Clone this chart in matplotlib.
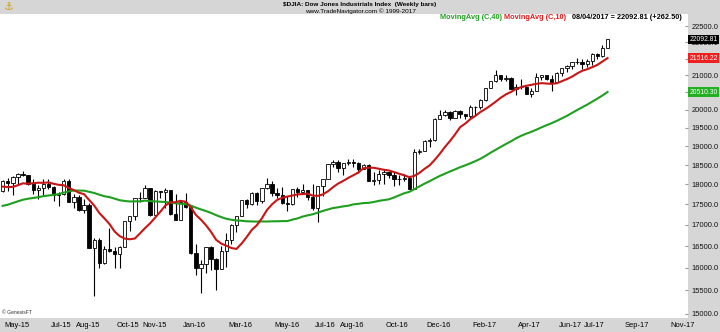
import numpy as np
import pandas as pd
import matplotlib
matplotlib.use('Agg')
import matplotlib.pyplot as plt
import matplotlib.dates as mdates
from matplotlib.ticker import FixedLocator, FormatStrFormatter, NullLocator
from matplotlib.transforms import ScaledTranslation, blended_transform_factory

plt.rcParams['font.family'] = ['Liberation Sans', 'DejaVu Sans']

# weekly bars (week ending Friday)
dates = pd.date_range('2015-04-24', periods=120, freq='W-FRI')

opens = [17827, 18080, 18024, 18191, 18272, 18232, 18011, 17849, 17899, 18016,
         17947, 17730, 17760, 18086, 17568, 17690, 17373, 17477, 16459, 16643,
         16102, 16433, 16385, 16315, 16472, 17084, 17216, 17647, 17664, 17910,
         17245, 17824, 17798, 17848, 17265, 17128, 17552, 17425, 16346, 15988,
         16093, 16466, 16205, 15974, 16392, 16640, 17006, 17213, 17602, 17515,
         17792, 17577, 17897, 18003, 17773, 17740, 17535, 17500, 17873, 17807,
         17865, 17675, 17400, 17949, 18147, 18516, 18571, 18432, 18543, 18576,
         18552, 18395, 18492, 18085, 18124, 18262, 18308, 18240, 18138, 18145,
         18161, 17888, 18848, 18868, 19152, 19170, 19757, 19843, 19934, 19763,
         19964, 19886, 19827, 20094, 20071, 20269, 20624, 20822, 21006, 20903,
         20915, 20597, 20663, 20656, 20453, 20548, 20941, 21007, 20897, 20805,
         21080, 21206, 21272, 21384, 21395, 21350, 21414, 21638, 21580, 21830]

highs = [18105, 18175, 18207, 18289, 18351, 18240, 18130, 17995, 18130, 18140,
         17950, 17820, 18140, 18130, 17760, 17740, 17640, 17540, 16700, 16700,
         16500, 16933, 16480, 16490, 17100, 17220, 17650, 17800, 17980, 17915,
         17850, 17840, 17900, 17860, 17750, 17600, 17780, 17430, 16550, 16180,
         16480, 16510, 16220, 16490, 16800, 17030, 17220, 17620, 17630, 17800,
         17810, 17920, 18168, 18080, 17900, 17940, 17700, 17890, 17930, 18000,
         17870, 18020, 17950, 18150, 18540, 18620, 18620, 18560, 18670, 18650,
         18580, 18540, 18540, 18330, 18360, 18360, 18330, 18330, 18250, 18260,
         18190, 18934, 18935, 19160, 19230, 19760, 19990, 19990, 19980, 19999,
         19990, 19890, 20125, 20110, 20300, 20640, 20830, 21169, 21010, 21000,
         20960, 20730, 20890, 20680, 20630, 21070, 21020, 21010, 21010, 21090,
         21210, 21305, 21392, 21530, 21480, 21480, 21680, 21680, 21930, 22100]

lows = [17810, 17840, 17736, 17995, 18213, 17990, 17770, 17640, 17730, 17880,
        17580, 17465, 17740, 17560, 17400, 17340, 17280, 16450, 15370, 16000,
        16090, 16350, 16000, 15990, 16470, 16860, 17130, 17560, 17650, 17220,
        17240, 17660, 17420, 17230, 17120, 17125, 17420, 16310, 15840, 15450,
        15880, 15960, 15503, 15970, 16010, 16550, 16820, 17210, 17400, 17480,
        17480, 17530, 17880, 17700, 17650, 17520, 17330, 17490, 17690, 17800,
        17600, 17350, 17063, 17710, 18140, 18440, 18330, 18240, 18500, 18450,
        18290, 18390, 18080, 17990, 18020, 18010, 18160, 17960, 17990, 18090,
        17880, 17880, 18780, 18860, 18980, 19150, 19730, 19830, 19720, 19760,
        19780, 19730, 19780, 19830, 20010, 20260, 20620, 20810, 20840, 20830,
        20590, 20410, 20590, 20450, 20380, 20540, 20860, 20860, 20550, 20800,
        20990, 21110, 21180, 21340, 21200, 21250, 21320, 21500, 21560, 21830]

closes = [18080, 18024, 18191, 18272, 18232, 18011, 17849, 17899, 18016, 17947,
          17730, 17760, 18086, 17568, 17690, 17373, 17477, 16459, 16643, 16102,
          16433, 16385, 16315, 16472, 17084, 17216, 17647, 17664, 17910, 17245,
          17824, 17798, 17848, 17265, 17128, 17552, 17425, 16346, 15988, 16093,
          16466, 16205, 15974, 16392, 16640, 17006, 17213, 17602, 17515, 17792,
          17577, 17897, 18003, 17773, 17740, 17535, 17500, 17873, 17807, 17865,
          17675, 17400, 17949, 18147, 18516, 18571, 18432, 18543, 18576, 18552,
          18395, 18492, 18085, 18124, 18262, 18308, 18240, 18138, 18145, 18161,
          17888.28, 18847.66, 18867.93, 19152.14, 19170.42, 19756.85, 19843.41, 19933.81, 19762.60, 19963.80,
          19885.73, 19827.25, 20093.78, 20071.46, 20269.37, 20624.05, 20821.76, 21005.71, 20902.98, 20914.62,
          20596.72, 20663.22, 20656.10, 20453.25, 20547.76, 20940.51, 21006.94, 20896.61, 20804.84, 21080.28,
          21206.29, 21271.97, 21384.28, 21394.76, 21349.63, 21414.34, 21637.74, 21580.07, 21830.31, 22092.81]

# closes of the 39 weeks before the first bar (needed for the 40 week average)
prior_closes = [16961, 16493, 16554, 16663, 17001, 17098, 17138, 16988, 17280, 17113,
                17009, 16544, 16380, 16805, 17391, 17573, 17635, 17810, 17828, 17959,
                17281, 17805, 18054, 17833, 17737, 17512, 17673, 17165, 17825, 18019,
                18141, 18133, 17856, 17749, 18128, 17713, 17763, 18058, 17827]

tick_dates = ['2015-05-01', '2015-07-03', '2015-08-07', '2015-10-02', '2015-11-06',
              '2016-01-01', '2016-03-04', '2016-05-06', '2016-07-01', '2016-08-05',
              '2016-10-07', '2016-12-02', '2017-02-03', '2017-04-07', '2017-06-02',
              '2017-07-07', '2017-09-01', '2017-11-03']
price_ticks = np.arange(15000, 22501, 500)

o = np.array(opens, float)
h = np.array(highs, float)
l = np.array(lows, float)
c = np.array(closes, float)
allc = pd.Series(prior_closes + closes, dtype=float)
ma10 = allc.rolling(10).mean().values[-len(c):]
ma40 = allc.rolling(40).mean().values[-len(c):]

x = mdates.date2num(dates)
up = c >= o

GRAY = '#d6d6d6'
GREEN = '#1f9f1f'
RED = '#c81616'

fig = plt.figure(figsize=(7.2, 3.32), dpi=100, facecolor=GRAY)
ax = fig.add_axes([0, 14 / 332, 688 / 720, 304 / 332])
ax.set_facecolor('white')

ax.vlines(x, l, h, color='black', lw=0.8, zorder=2)
ax.bar(x, np.abs(c - o), bottom=np.minimum(o, c), width=4.6,
       color=np.where(up, 'white', 'black'), edgecolor='black', linewidth=0.6, zorder=3)
ax.plot(x, ma40, color=GREEN, lw=1.5, zorder=4)
ax.plot(x, ma10, color=RED, lw=1.5, zorder=4)

ax.set_yscale('log')
ax.set_ylim(14905, 22900)
ax.set_xlim(x[0] - 3.7, x[0] + 943.8)

ax.yaxis.tick_right()
ax.yaxis.set_major_locator(FixedLocator(price_ticks))
ax.yaxis.set_minor_locator(NullLocator())
ax.yaxis.set_major_formatter(FormatStrFormatter('%.1f'))
ax.tick_params(axis='y', direction='in', length=2, color='#999999', pad=2.5,
               labelsize=5.4, labelcolor='#111111')

td = pd.to_datetime(tick_dates)
ax.set_xticks(mdates.date2num(td))
ax.set_xticklabels([d.strftime('%b-%y') for d in td])
ax.tick_params(axis='x', length=0, pad=3, labelsize=5.4)
for lab in ax.get_xticklabels():
    lab.set_ha('left')
    lab.set_transform(lab.get_transform() + ScaledTranslation(-0.03, 0, fig.dpi_scale_trans))

for s in ax.spines.values():
    s.set_visible(False)

# value flags on the price axis
trans = blended_transform_factory(ax.transAxes, ax.transData)
for val, col in [(c[-1], 'black'), (ma10[-1], '#ee2020'), (ma40[-1], '#22b022')]:
    ax.text(1.0025, val, f'{val:.2f}', transform=trans, ha='left', va='center',
            color='white', fontsize=4.9, clip_on=False, zorder=10,
            bbox=dict(boxstyle='square,pad=0.2', fc=col, ec='none'))

# header
fig.text(0.5, 1 - 4.5 / 332, '$DJIA: Dow Jones Industrials Index  (Weekly bars)',
         ha='center', va='center', fontsize=4.6, fontweight='bold', parse_math=False)
fig.text(0.5, 1 - 11 / 332, 'www.TradeNavigator.com \u00a9 1999-2017',
         ha='center', va='center', fontsize=4.6)
fig.text(9 / 720, 1 - 7 / 332, '\u2693', ha='center', va='center', fontsize=8,
         color='#d4a017', family=['DejaVu Sans'])

# legend line
ly = 1 - 17.5 / 332
chg = c[-1] - c[-2]
fig.text(440 / 720, ly, 'MovingAvg (C,40)', color=GREEN, fontsize=5.3,
         fontweight='bold', va='center')
fig.text(504 / 720, ly, 'MovingAvg (C,10)', color='#dd1a1a', fontsize=5.3,
         fontweight='bold', va='center')
fig.text(572 / 720, ly, f'{dates[-1]:%m/%d/%Y} = {c[-1]:.2f} ({chg:+.2f})',
         color='black', fontsize=5.3, fontweight='bold', va='center')

fig.text(2 / 720, 1 - 313 / 332, '\u00a9 GenesisFT', fontsize=3.6,
         color='#333333', va='center')

fig.savefig('out.png', dpi=100, facecolor=GRAY)
